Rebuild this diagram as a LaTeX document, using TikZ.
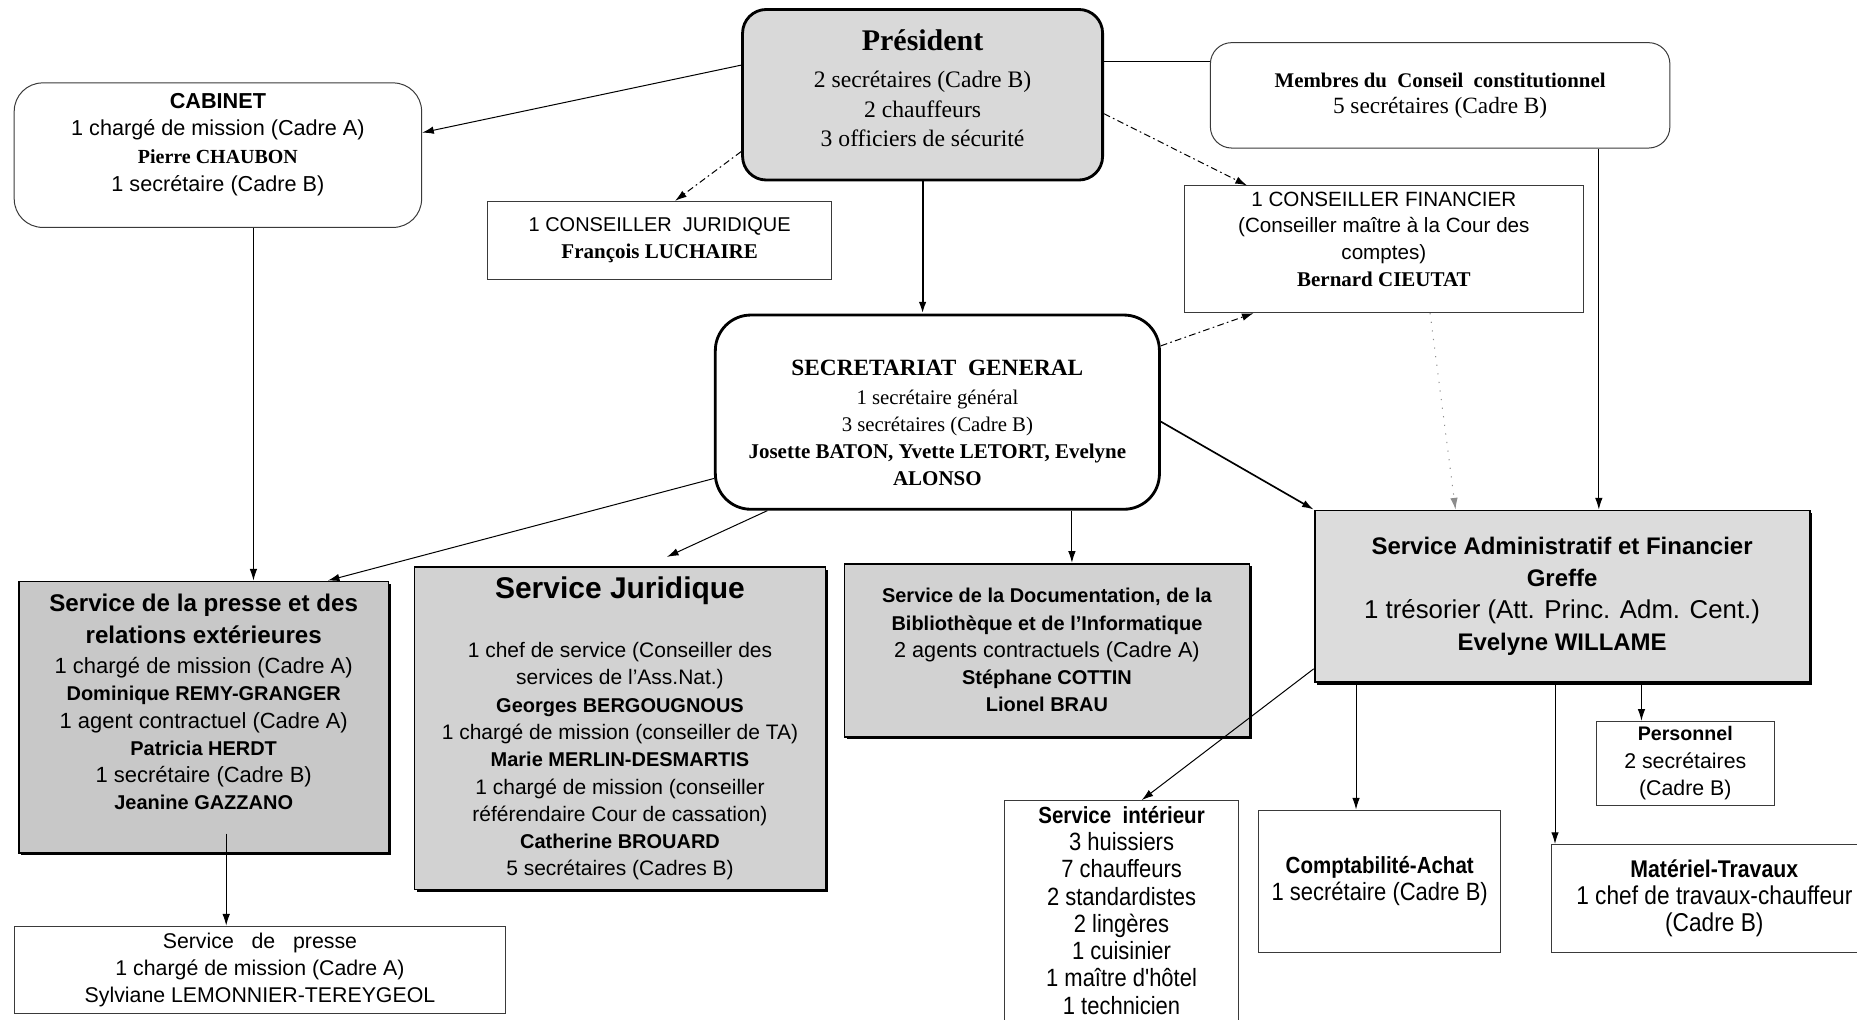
\documentclass[tikz,border=0pt]{standalone}
\usepackage{fontspec}
\setmainfont{Liberation Serif}
\setsansfont{Liberation Sans}
\newfontfamily\narrowsf[FakeStretch=0.88]{Liberation Sans}
\usepackage{tikz}
\usetikzlibrary{arrows.meta, positioning, shadows}
\definecolor{edgegray}{HTML}{3A3A3A}
\definecolor{presgray}{HTML}{D9D9D9}
\definecolor{boxgray}{HTML}{D2D2D2}
\definecolor{pressgray}{HTML}{C8C8C8}
\definecolor{safgray}{HTML}{DCDCDC}
\newcommand{\nm}[1]{{\rmfamily\bfseries\fontsize{12.6}{14}\selectfont #1}}
\newcommand{\bn}[1]{{\bfseries\fontsize{12}{14}\selectfont #1}}
\newcommand{\padbot}[1]{\rule[-#1]{0pt}{#1}}
\newcommand{\padtop}[1]{\rule{0pt}{#1}}

\begin{document}
\begin{tikzpicture}[
  box/.style={draw=edgegray, line width=0.6pt, align=center, inner sep=0pt,
              font=\sffamily\fontsize{12.8}{16.4}\selectfont},
  rbox/.style={box, rounded corners=#1},
  mainbox/.style={box, draw=black, line width=1.7pt, rounded corners=#1},
  gbox/.style={box, draw=black, line width=1.1pt, fill=boxgray,
               drop shadow={shadow xshift=1.5pt, shadow yshift=-1.5pt,
                            fill=black, opacity=1}},
  link/.style={-{Latex[length=7pt, width=4.5pt]}, line width=0.6pt},
  dlink/.style={link, dash pattern=on 4pt off 2pt on 1pt off 2pt},
  plink/.style={link, black!45, dash pattern=on 0.7pt off 4.5pt},
]
  \useasboundingbox (0,0) rectangle (39.2,-21.525);

  \node[mainbox=0.5cm, fill=presgray, minimum width=7.6cm, minimum height=3.6cm,
        font=\rmfamily\fontsize{14.2}{17.8}\selectfont] (pres) at (19.475,-2.0)
    {{\bfseries\fontsize{18}{20}\selectfont Président}\\[4.2pt]
     2 secrétaires (Cadre B)\\ 2 chauffeurs\\
     3 officiers de sécurité\padbot{7.5pt}};
  \node[rbox=0.6cm, minimum width=8.6cm, minimum height=3.05cm,
        font=\sffamily\fontsize{13}{16.6}\selectfont] (cab) at (4.6,-3.275)
    {\textbf{CABINET}\\ 1 chargé de mission (Cadre A)\\
     {\rmfamily\bfseries\fontsize{12}{14}\selectfont Pierre CHAUBON}\\
     1 secrétaire (Cadre B)\padbot{15.6pt}};
  \node[rbox=0.45cm, minimum width=9.7cm, minimum height=2.225cm,
        font=\rmfamily\fontsize{14}{15.6}\selectfont] (memb) at (30.4,-2.0125)
    {{\bfseries\fontsize{12.5}{14}\selectfont Membres du\ \ Conseil\ \ constitutionnel}\\
     5 secrétaires (Cadre B)};
  \node[box, minimum width=7.25cm, minimum height=1.65cm,
        font=\sffamily\fontsize{12}{16.4}\selectfont] (cjur) at (13.925,-5.075)
    {1 CONSEILLER\ \ JURIDIQUE\\ \nm{François LUCHAIRE}};
  \node[box, minimum width=8.425cm, minimum height=2.675cm,
        font=\sffamily\fontsize{12.4}{16.1}\selectfont] (cfin) at (29.2125,-5.2625)
    {1 CONSEILLER FINANCIER\\ (Conseiller maître à la Cour des\\ comptes)\\
     \nm{Bernard CIEUTAT}\padbot{12.2pt}};
  \node[mainbox=0.75cm, minimum width=9.375cm, minimum height=4.1cm,
        font=\rmfamily\fontsize{12.5}{16.1}\selectfont] (sg) at (19.7875,-8.7)
    {{\bfseries\fontsize{14}{16}\selectfont SECRETARIAT\ \ GENERAL}\padtop{21.7pt}\\[1.6pt]
     1 secrétaire général\\ 3 secrétaires (Cadre B)\\
     \nm{Josette BATON, Yvette LETORT, Evelyne}\\ \nm{ALONSO}};

  \node[gbox, fill=pressgray, minimum width=7.8cm, minimum height=5.725cm,
        font=\sffamily\fontsize{13.2}{16.4}\selectfont] (presse) at (4.3,-15.1375)
    {{\bfseries\fontsize{14.5}{17}\selectfont Service de la presse et des}\\[2.8pt]
     {\bfseries\fontsize{14.5}{17}\selectfont relations extérieures}\\[1.4pt]
     1 chargé de mission (Cadre A)\\ \bn{Dominique REMY-GRANGER}\\
     1 agent contractuel (Cadre A)\\ \bn{Patricia HERDT}\\
     1 secrétaire (Cadre B)\\ \bn{Jeanine GAZZANO}\padbot{18pt}};
  \node[gbox, minimum width=8.675cm, minimum height=6.8cm,
        font=\sffamily\fontsize{12.6}{16.4}\selectfont] (sjur) at (13.0875,-15.375)
    {{\bfseries\fontsize{18}{20}\selectfont Service Juridique}\\[19.3pt]
     1 chef de service (Conseiller des\\ services de l'Ass.Nat.)\\
     \bn{Georges BERGOUGNOUS}\\ 1 chargé de mission (conseiller de TA)\\
     \bn{Marie MERLIN-DESMARTIS}\\ 1 chargé de mission (conseiller\\
     référendaire Cour de cassation)\\ \bn{Catherine BROUARD}\\
     5 secrétaires (Cadres B)};
  \node[gbox, minimum width=8.55cm, minimum height=3.65cm,
        font=\sffamily\fontsize{13}{16.4}\selectfont] (sdoc) at (22.1,-13.725)
    {\bn{Service de la Documentation, de la}\\ \bn{Bibliothèque et de l'Informatique}\\
     2 agents contractuels (Cadre A)\\ \bn{Stéphane COTTIN}\\ \bn{Lionel BRAU}};
  \node[gbox, fill=safgray, minimum width=10.45cm, minimum height=3.625cm,
        font=\sffamily\fontsize{15.5}{19.4}\selectfont] (saf) at (32.975,-12.5875)
    {{\bfseries\fontsize{14.4}{17}\selectfont Service Administratif et Financier}\\
     {\bfseries\fontsize{14.4}{17}\selectfont Greffe}\\
     1 trésorier (Att. Princ. Adm. Cent.)\\
     {\bfseries\fontsize{14.4}{17}\selectfont Evelyne WILLAME}};

  \node[box, minimum width=3.75cm, minimum height=1.775cm] (pers) at (35.575,-16.1125)
    {{\bfseries\fontsize{11.8}{14}\selectfont Personnel}\\ 2 secrétaires\\ (Cadre B)};
  \node[box, minimum width=4.95cm, minimum height=4.9cm,
        font=\narrowsf\fontsize{15}{16.4}\selectfont] (sint) at (23.675,-19.35)
    {{\bfseries\fontsize{14}{16}\selectfont Service\ \ intérieur}\\ 3 huissiers\\
     7 chauffeurs\\ 2 standardistes\\ 2 lingères\\ 1 cuisinier\\
     1 maître d'hôtel\\ 1 technicien\padbot{7.8pt}};
  \node[box, minimum width=5.1cm, minimum height=3cm,
        font=\narrowsf\fontsize{15}{16.4}\selectfont] (compt) at (29.125,-18.6)
    {{\bfseries\fontsize{14}{16}\selectfont Comptabilité-Achat}\\ 1 secrétaire (Cadre B)};
  \node[box, minimum width=6.875cm, minimum height=2.275cm,
        font=\narrowsf\fontsize{15.5}{16.4}\selectfont] (mat) at (36.1875,-18.9625)
    {{\bfseries\fontsize{14.5}{16}\selectfont Matériel-Travaux}\\
     1 chef de travaux-chauffeur\\ (Cadre B)};
  \node[box, minimum width=10.375cm, minimum height=1.85cm] (spr) at (5.4875,-20.475)
    {Service\ \ \ de\ \ \ presse\\ 1 chargé de mission (Cadre A)\\
     Sylviane LEMONNIER-TEREYGEOL};

  \draw[link] ([yshift=0.625cm]pres.west) -- ([yshift=0.475cm]cab.east);
  \draw[dlink] ([yshift=-1.2cm]pres.west) -- ([xshift=0.325cm]cjur.north);
  \draw[dlink] ([yshift=-0.4cm]pres.east) -- ([xshift=-2.89cm]cfin.north);
  \draw[line width=0.9pt] ([yshift=0.7cm]pres.east) coordinate (pm) -- (pm -| memb.west);
  \draw[link, line width=1.3pt] (pres.south) -- (pres.south |- sg.north);
  \draw[dlink] ([yshift=1.4cm]sg.east) -- ([xshift=-2.75cm]cfin.south);
  \draw[link] ([xshift=3.35cm]memb.south) coordinate (ms) -- (ms |- saf.north);
  \draw[plink] ([xshift=0.975cm]cfin.south) -- ([xshift=-2.25cm]saf.north);
  \draw[link, line width=1pt] ([yshift=-0.2cm]sg.east) -- (saf.north west);
  \draw[link] ([yshift=-1.4cm]sg.west) -- ([xshift=2.62cm]presse.north);
  \draw[link] ([xshift=-3.59cm]sg.south) -- ([xshift=0.99cm, yshift=0.2cm]sjur.north);
  \draw[link] ([xshift=2.84cm]sg.south) coordinate (sd) -- (sd |- sdoc.north);
  \draw[link] ([xshift=0.75cm]cab.south) coordinate (cp) -- (cp |- presse.north);
  \draw[link] ([xshift=0.475cm, yshift=0.425cm]presse.south) coordinate (ps) -- (ps |- spr.north);
  \draw[link] ([yshift=0.3cm]saf.south west) -- ([xshift=0.425cm]sint.north);
  \draw[link] ([xshift=-4.35cm]saf.south) coordinate (sc) -- (sc |- compt.north);
  \draw[link] ([xshift=-0.15cm]saf.south) coordinate (sm) -- (sm |- mat.north);
  \draw[link] ([xshift=1.675cm]saf.south) coordinate (sp) -- (sp |- pers.north);
\end{tikzpicture}
\end{document}
